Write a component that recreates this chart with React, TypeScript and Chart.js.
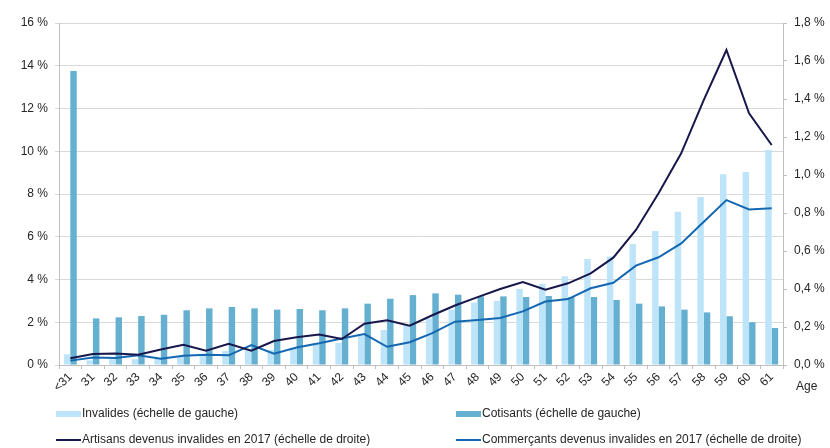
import React, { useEffect, useRef } from "react";
import { Chart, registerables } from "chart.js";

Chart.register(...registerables);

const categories = ["<31","31","32","33","34","35","36","37","38","39","40","41","42","43","44","45","46","47","48","49","50","51","52","53","54","55","56","57","58","59","60","61"];

const invalides = [0.50,0.22,0.27,0.27,0.31,0.39,0.47,0.66,0.76,0.70,0.80,1.01,1.04,1.36,1.64,1.86,2.18,2.60,2.92,3.00,3.56,3.79,4.15,4.96,5.08,5.66,6.27,7.17,7.86,8.92,9.03,10.06];

const cotisants = [13.75,2.18,2.23,2.29,2.35,2.56,2.65,2.71,2.65,2.59,2.62,2.56,2.65,2.87,3.10,3.27,3.35,3.29,3.21,3.21,3.18,3.23,3.18,3.18,3.04,2.87,2.74,2.59,2.46,2.28,2.00,1.73];

const artisans = [0.035,0.058,0.060,0.054,0.082,0.107,0.075,0.112,0.075,0.126,0.146,0.160,0.137,0.217,0.235,0.207,0.262,0.313,0.357,0.400,0.437,0.396,0.430,0.482,0.565,0.711,0.904,1.114,1.395,1.658,1.325,1.158];

const commercants = [0.023,0.039,0.037,0.051,0.033,0.049,0.054,0.051,0.105,0.060,0.092,0.114,0.140,0.163,0.096,0.120,0.168,0.228,0.237,0.247,0.282,0.334,0.347,0.404,0.433,0.523,0.567,0.640,0.754,0.868,0.819,0.825];

const leftTicksMax = 16;
const rightTicksMax = 1.8;

const seriesLabels = [
  "Invalides (échelle de gauche)",
  "Cotisants (échelle de gauche)",
  "Artisans devenus invalides en 2017 (échelle de droite)",
  "Commerçants devenus invalides en 2017 (échelle de droite)",
];
const axisTitle = "Age";

const COL_LIGHT = "#BEE4F9";
const COL_DARK = "#65AFD0";
const COL_NAVY = "#17174B";
const COL_BLUE = "#1467B1";
const FONT = "'Liberation Sans', Arial, sans-serif";
const TEXT = "#262626";

const extrasPlugin = {
  id: "extras",
  afterDraw(chart: any) {
    const ctx = chart.ctx;
    ctx.save();
    ctx.font = `12px ${FONT}`;
    ctx.fillStyle = TEXT;
    ctx.textBaseline = "middle";
    ctx.textAlign = "left";
    ctx.fillText(axisTitle, 796, 387);
    const items = [
      { x: 56, y: 414, type: "box", color: COL_LIGHT, label: seriesLabels[0] },
      { x: 456, y: 414, type: "box", color: COL_DARK, label: seriesLabels[1] },
      { x: 56, y: 440, type: "line", color: COL_NAVY, label: seriesLabels[2] },
      { x: 456, y: 440, type: "line", color: COL_BLUE, label: seriesLabels[3] },
    ];
    for (const it of items) {
      if (it.type === "box") {
        ctx.fillStyle = it.color;
        ctx.fillRect(it.x, it.y - 3, 25, 6);
      } else {
        ctx.strokeStyle = it.color;
        ctx.lineWidth = 2;
        ctx.beginPath();
        ctx.moveTo(it.x, it.y);
        ctx.lineTo(it.x + 25, it.y);
        ctx.stroke();
      }
      ctx.fillStyle = TEXT;
      ctx.fillText(it.label, it.x + 26, it.y);
    }
    ctx.restore();
  },
};

export default function App() {
  const ref = useRef<HTMLCanvasElement | null>(null);
  useEffect(() => {
    if (!ref.current) return;
    const chart = new Chart(ref.current, {
      type: "bar",
      data: {
        labels: categories,
        datasets: [
          {
            type: "line",
            label: seriesLabels[2],
            data: artisans,
            yAxisID: "y1",
            borderColor: COL_NAVY,
            backgroundColor: COL_NAVY,
            borderWidth: 2,
            pointRadius: 0,
            tension: 0,
            order: 0,
          } as any,
          {
            type: "line",
            label: seriesLabels[3],
            data: commercants,
            yAxisID: "y1",
            borderColor: COL_BLUE,
            backgroundColor: COL_BLUE,
            borderWidth: 2,
            pointRadius: 0,
            tension: 0,
            order: 0,
          } as any,
          {
            type: "bar",
            label: seriesLabels[0],
            data: invalides,
            yAxisID: "y",
            backgroundColor: COL_LIGHT,
            barPercentage: 1,
            categoryPercentage: 0.57,
            order: 1,
          },
          {
            type: "bar",
            label: seriesLabels[1],
            data: cotisants,
            yAxisID: "y",
            backgroundColor: COL_DARK,
            barPercentage: 1,
            categoryPercentage: 0.57,
            order: 1,
          },
        ],
      },
      options: {
        responsive: false,
        animation: false,
        layout: { padding: { top: 23, bottom: 0, left: 0, right: 0 } },
        plugins: {
          legend: { display: false },
          tooltip: { enabled: false },
        },
        scales: {
          x: {
            grid: {
              offset: true,
              drawOnChartArea: false,
              drawTicks: true,
              tickLength: 4,
              color: "#BFBFBF",
            },
            border: { color: "#BFBFBF" },
            ticks: {
              minRotation: 45,
              maxRotation: 45,
              autoSkip: false,
              color: TEXT,
              font: { family: FONT, size: 12 },
              padding: 1,
            },
            afterFit: (s: any) => {
              s.height = 83;
            },
          },
          y: {
            position: "left",
            min: 0,
            max: leftTicksMax,
            grid: { color: "#D9D9D9", tickLength: 4 },
            border: { color: "#BFBFBF" },
            ticks: {
              stepSize: 2,
              color: TEXT,
              font: { family: FONT, size: 12 },
              padding: 7,
              callback: (v: any) => `${v} %`,
            },
            afterFit: (s: any) => {
              s.width = 59;
            },
          },
          y1: {
            position: "right",
            min: 0,
            max: rightTicksMax,
            grid: { drawOnChartArea: false, color: "#BFBFBF", tickLength: 4 },
            border: { color: "#BFBFBF" },
            ticks: {
              stepSize: 0.2,
              color: TEXT,
              font: { family: FONT, size: 12 },
              padding: 7,
              callback: (v: any) => `${Number(v).toFixed(1).replace(".", ",")} %`,
            },
            afterFit: (s: any) => {
              s.width = 47;
            },
          },
        },
      },
      plugins: [extrasPlugin],
    });
    return () => chart.destroy();
  }, []);
  return (
    <div style={{ position: "absolute", left: 0, top: 0, width: 830, height: 448, background: "#fff" }}>
      <canvas ref={ref} width={830} height={448} />
    </div>
  );
}
